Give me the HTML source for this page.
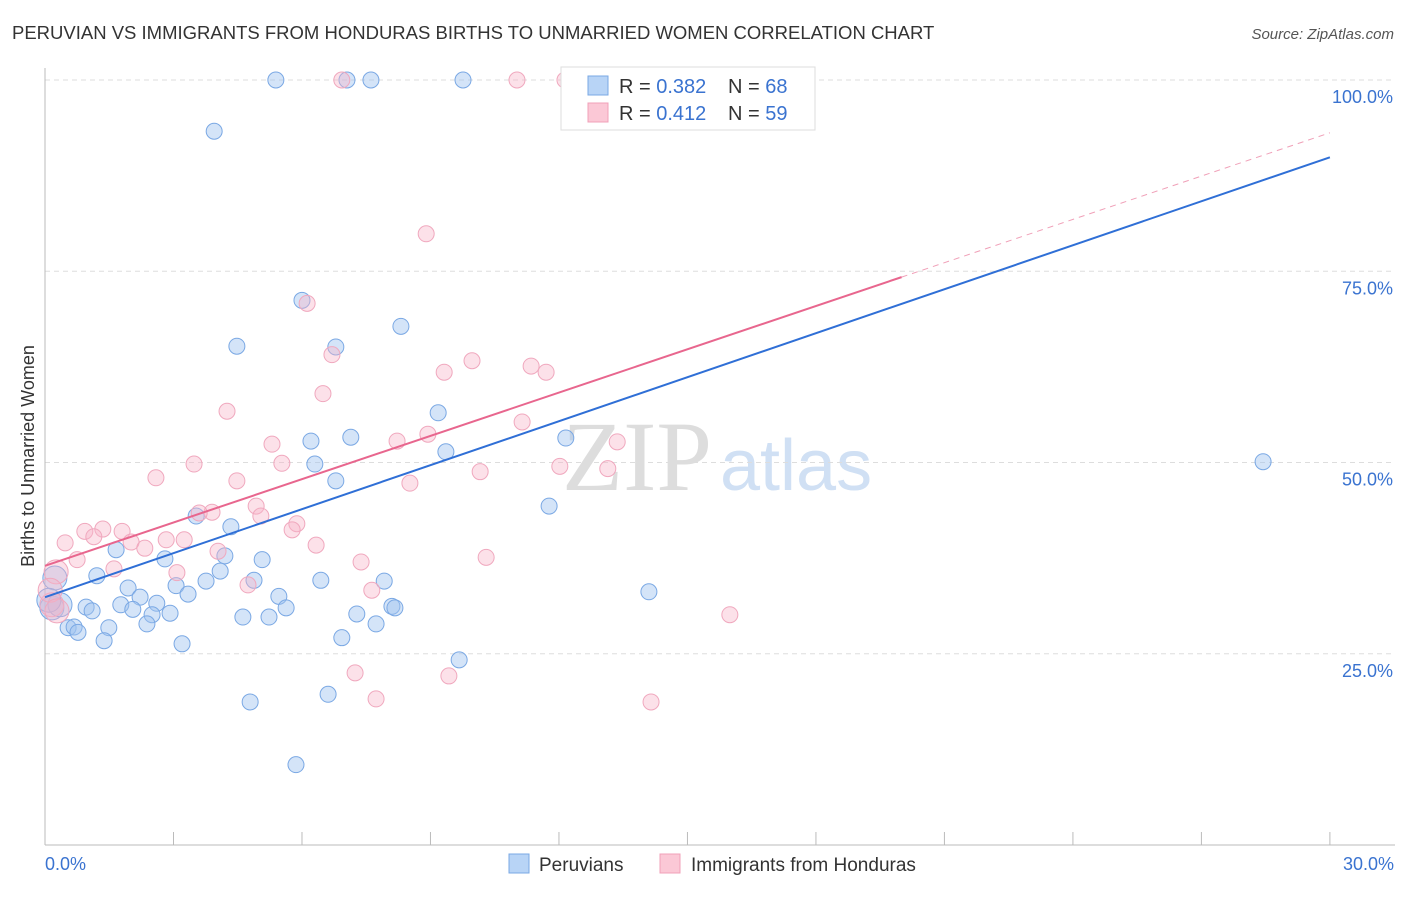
<!DOCTYPE html>
<html><head><meta charset="utf-8"><style>
body{margin:0;background:#fff;font-family:"Liberation Sans",sans-serif;}
svg text{font-family:"Liberation Sans",sans-serif;}
</style></head><body>
<svg id="chart" width="1406" height="892" viewBox="0 0 1406 892">
<text x="12" y="39" font-size="18.5" fill="#333">PERUVIAN VS IMMIGRANTS FROM HONDURAS BIRTHS TO UNMARRIED WOMEN CORRELATION CHART</text>
<text x="1394" y="39" font-size="15" fill="#555" font-style="italic" text-anchor="end">Source: ZipAtlas.com</text>
<text x="712" y="490" font-size="100" fill="#ddd" text-anchor="end" style="font-family:'Liberation Serif',serif">ZIP</text>
<text x="720" y="490" font-size="72" fill="#d0e0f4">atlas</text>
<g id="grid"></g><g id="axes"></g><g id="pts"></g><g id="lines"></g>
<text transform="translate(34,456) rotate(-90)" font-size="18" fill="#333" text-anchor="middle">Births to Unmarried Women</text>
<g>
<rect x="561" y="67" width="254" height="63" fill="#fff" stroke="#ddd"/>
<rect x="588" y="76" width="20" height="19" fill="#b8d4f6" stroke="#7aa8e4"/>
<rect x="588" y="103" width="20" height="19" fill="#fbc8d6" stroke="#f0a0b8"/>
<text x="619" y="93" font-size="20" fill="#333">R = <tspan fill="#3a73d0">0.382</tspan></text>
<text x="728" y="93" font-size="20" fill="#333">N = <tspan fill="#3a73d0">68</tspan></text>
<text x="619" y="120" font-size="20" fill="#333">R = <tspan fill="#3a73d0"> 0.412</tspan></text>
<text x="728" y="120" font-size="20" fill="#333">N = <tspan fill="#3a73d0">59</tspan></text>
</g>
<g>
<rect x="509" y="854" width="20" height="19" fill="#b8d4f6" stroke="#7aa8e4"/>
<text x="539" y="871" font-size="19" fill="#333">Peruvians</text>
<rect x="660" y="854" width="20" height="19" fill="#fbc8d6" stroke="#f0a0b8"/>
<text x="691" y="871" font-size="19" fill="#333">Immigrants from Honduras</text>
</g>
</svg>
<script>
const blueX=[5.39,7.05,7.61,9.76,3.95,6.0,8.31,4.48,6.79,9.18,6.21,7.14,6.30,9.36,12.16,6.79,28.44,11.77,3.53,4.34,1.66,2.80,4.20,5.07,1.21,4.09,3.76,3.06,4.88,6.44,7.92,1.94,2.22,3.34,5.46,2.61,1.77,0.96,1.10,2.05,2.92,2.50,5.63,8.10,8.17,7.28,4.62,5.23,14.10,2.38,7.73,0.54,0.68,0.77,1.49,1.38,6.93,3.20,9.67,6.61,4.79,5.86,0.23,0.16,0.35,0.09];
const blueY=[100,100,100,100,93.3,71.2,67.8,65.2,65.1,56.5,52.8,53.3,49.8,51.4,53.2,47.6,50.1,44.3,43.0,41.6,38.6,37.4,37.8,37.3,35.2,35.8,34.5,33.9,34.6,34.6,34.5,33.6,32.4,32.8,32.5,31.6,31.4,31.1,30.6,30.8,30.3,30.1,31.0,31.2,31.0,30.2,29.8,29.8,33.1,28.9,28.9,28.4,28.5,27.8,28.4,26.7,27.1,26.3,24.2,19.7,18.7,10.5,34.9,31.0,31.4,32.0];
const pinkX=[6.93,11.02,12.14,14.59,8.90,6.12,6.70,9.97,9.32,11.35,11.70,6.49,4.25,11.14,8.94,8.22,5.30,13.36,5.53,3.48,12.02,10.16,13.14,2.59,4.48,8.52,4.93,3.90,3.60,5.04,0.93,1.35,1.80,2.01,0.47,1.14,2.83,3.25,5.88,5.77,6.33,2.33,0.75,4.04,10.30,7.38,1.61,3.08,4.74,7.63,15.99,0.26,0.16,7.24,9.43,7.73,14.15,0.12,0.28];
const pinkY=[100,100,100,100,79.9,70.8,64.1,63.3,61.8,62.6,61.8,59.0,56.7,55.3,53.7,52.8,52.4,52.7,49.9,49.8,49.5,48.8,49.2,48.0,47.6,47.3,44.3,43.5,43.4,43.0,41.0,41.3,41.0,39.6,39.5,40.3,39.9,39.9,42.0,41.2,39.2,38.8,37.3,38.4,37.6,37.0,36.1,35.6,34.0,33.3,30.1,35.7,31.4,22.5,22.1,19.1,18.7,33.3,30.6];
const blueLine=[32.4,89.9];
const pinkLine=[36.5,93.1];
const pinkSolidEnd=20.0;
const yTicks=[25,50,75,100];
const xTickLabels=["0.0%","30.0%"];
const NS="http://www.w3.org/2000/svg";
const sx=v=>45+v*42.83, sy=v=>845-v*7.65;
function mk(tag,attrs,parent){const e=document.createElementNS(NS,tag);for(const k in attrs)e.setAttribute(k,attrs[k]);parent.appendChild(e);return e;}
const grid=document.getElementById('grid'),axes=document.getElementById('axes'),pts=document.getElementById('pts'),lines=document.getElementById('lines');
yTicks.forEach(t=>{
 const l=mk('line',{x1:45,x2:1395,y1:sy(t),y2:sy(t),stroke:'#ddd','stroke-dasharray':'5,4'},grid);
 
 
 const tx=mk('text',{x:1393,y:sy(t)+23,'font-size':18,fill:'#3a73d0','text-anchor':'end'},axes);
 tx.textContent=t.toFixed(1)+'%';
 
 
});
const ax=mk('line',{x1:45,x2:1395,y1:845,y2:845,stroke:'#bbb'},axes);


const ay=mk('line',{x1:45,x2:45,y1:68,y2:845,stroke:'#bbb'},axes);


for(let i=1;i<=10;i++){
 const t=mk('line',{x1:sx(i*3),x2:sx(i*3),y1:832,y2:845,stroke:'#bbb'},axes);
 
 
}
[[0,'start',xTickLabels[0]],[30,'end',xTickLabels[1]]].forEach(([v,a,s])=>{
 const tx=mk('text',{x:v===0?45:1394,y:870,'font-size':18,fill:'#3a73d0','text-anchor':a},axes);
 tx.textContent=s;
 
 
});
function drawPts(X,Y,fill,stroke,name){
 X.forEach((x,i)=>{
  const r=x<0.4?12:8;
  const c=mk('circle',{cx:sx(x),cy:sy(Y[i]),r:r,fill:fill,stroke:stroke,'stroke-width':1},pts);
  
  
 });
}
drawPts(blueX,blueY,'rgba(160,196,240,0.45)','#7aa8e4','peruvian-point');
drawPts(pinkX,pinkY,'rgba(248,180,200,0.4)','#f0a8be','honduras-point');
const bl=mk('line',{x1:sx(0),y1:sy(blueLine[0]),x2:sx(30),y2:sy(blueLine[1]),stroke:'#2f6fd6','stroke-width':2},lines);


const pAt=x=>pinkLine[0]+(pinkLine[1]-pinkLine[0])*x/30;
const pl=mk('line',{x1:sx(0),y1:sy(pAt(0)),x2:sx(pinkSolidEnd),y2:sy(pAt(pinkSolidEnd)),stroke:'#e8668e','stroke-width':2},lines);


const pd=mk('line',{x1:sx(pinkSolidEnd),y1:sy(pAt(pinkSolidEnd)),x2:sx(30),y2:sy(pAt(30)),stroke:'#f0a0b8','stroke-width':1,'stroke-dasharray':'6,5'},lines);


</script>
</body></html>
